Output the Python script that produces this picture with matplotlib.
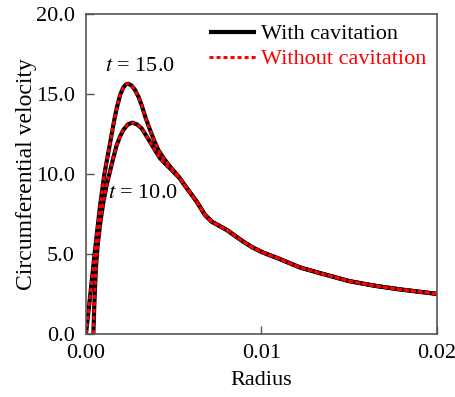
import matplotlib
matplotlib.use("Agg")
import matplotlib.pyplot as plt
from matplotlib.ticker import FormatStrFormatter

plt.rcParams['font.family'] = ['Liberation Serif', 'DejaVu Serif']
plt.rcParams['mathtext.fontset'] = 'stix'

# t = 15.0 profile
r_15 = [0.0, 0.00020, 0.00049, 0.00080, 0.00105, 0.00125, 0.00146, 0.00160,
        0.00175, 0.00195, 0.00213, 0.00228, 0.00241, 0.00260, 0.00279, 0.00300,
        0.00317, 0.00340, 0.00365, 0.00390, 0.00412, 0.00445, 0.00479, 0.00536,
        0.00554, 0.00631, 0.00678, 0.00716, 0.00802, 0.00896, 0.00950, 0.01010,
        0.01100, 0.01220, 0.01333, 0.01500, 0.01650, 0.01790, 0.02000]
v_15 = [0.0, 2.00, 5.00, 8.00, 10.00, 11.20, 12.45, 13.30,
        14.10, 14.95, 15.40, 15.60, 15.63, 15.52, 15.25, 14.80,
        14.30, 13.50, 12.75, 12.05, 11.50, 10.95, 10.46, 9.73,
        9.42, 8.27, 7.44, 7.02, 6.50, 5.77, 5.40, 5.08,
        4.70, 4.15, 3.80, 3.30, 3.00, 2.78, 2.50]

# t = 10.0 profile
r_10 = [0.00042, 0.00048, 0.00056, 0.00066, 0.00082, 0.00100, 0.00120, 0.00140,
        0.00158, 0.00175, 0.00195, 0.00213, 0.00240, 0.00264, 0.00290, 0.00317,
        0.00340, 0.00365, 0.00395, 0.00422, 0.00455, 0.00488, 0.00536,
        0.00554, 0.00631, 0.00678, 0.00716, 0.00802, 0.00896, 0.00950, 0.01010,
        0.01100, 0.01220, 0.01333, 0.01500, 0.01650, 0.01790, 0.02000]
v_10 = [0.0, 2.00, 4.00, 5.50, 7.00, 8.30, 9.40, 10.30,
        11.10, 11.80, 12.35, 12.75, 13.10, 13.20, 13.10, 12.85,
        12.45, 12.00, 11.45, 10.98, 10.60, 10.25, 9.70,
        9.42, 8.27, 7.44, 7.02, 6.50, 5.77, 5.40, 5.08,
        4.70, 4.15, 3.80, 3.30, 3.00, 2.78, 2.50]

fig = plt.figure(figsize=(4.55, 3.97), dpi=100)
ax = fig.add_axes([0.189, 0.159, 0.771, 0.806])

black_kw = dict(color='black', linewidth=3.0, solid_capstyle='butt',
                solid_joinstyle='round')
red_kw = dict(color='red', linewidth=2.2, linestyle=(0, (1.3, 1.0)))

ax.plot(r_15, v_15, label='With cavitation', **black_kw)
ax.plot(r_10, v_10, **black_kw)
ax.plot(r_15, v_15, label='Without cavitation', **red_kw)
ax.plot(r_10, v_10, **red_kw)

ax.set_xlim(0, 0.02)
ax.set_ylim(0, 20)
ax.set_xticks([0.0, 0.01, 0.02])
ax.set_xticklabels(['0.00', '0.01', '0.02'])
ax.set_yticks([0, 5, 10, 15, 20])
ax.yaxis.set_major_formatter(FormatStrFormatter('%.1f'))
ax.tick_params(direction='in', length=6, width=1.0, color='#555555',
               labelsize=16)
ax.tick_params(axis='y', pad=8)
ax.tick_params(axis='x', pad=7)
for s in ax.spines.values():
    s.set_color('#555555')
    s.set_linewidth(1.2)

ax.set_xlabel('Radius', fontsize=16, labelpad=6)
ax.set_ylabel('Circumferential velocity', fontsize=17, labelpad=-1)

ax.text(0.00308, 16.1, r'$t$ = 15.0', fontsize=16, ha='center', va='bottom')
ax.text(0.00327, 8.8, r'$t$ = 10.0', fontsize=16, ha='center', va='center')

leg = ax.legend(loc='upper right', frameon=False, fontsize=16,
                handlelength=2.1, handletextpad=0.25, labelspacing=0.2,
                borderaxespad=0.1, borderpad=0.35)
leg.get_texts()[1].set_color('red')

fig.savefig('out.png', dpi=100)
